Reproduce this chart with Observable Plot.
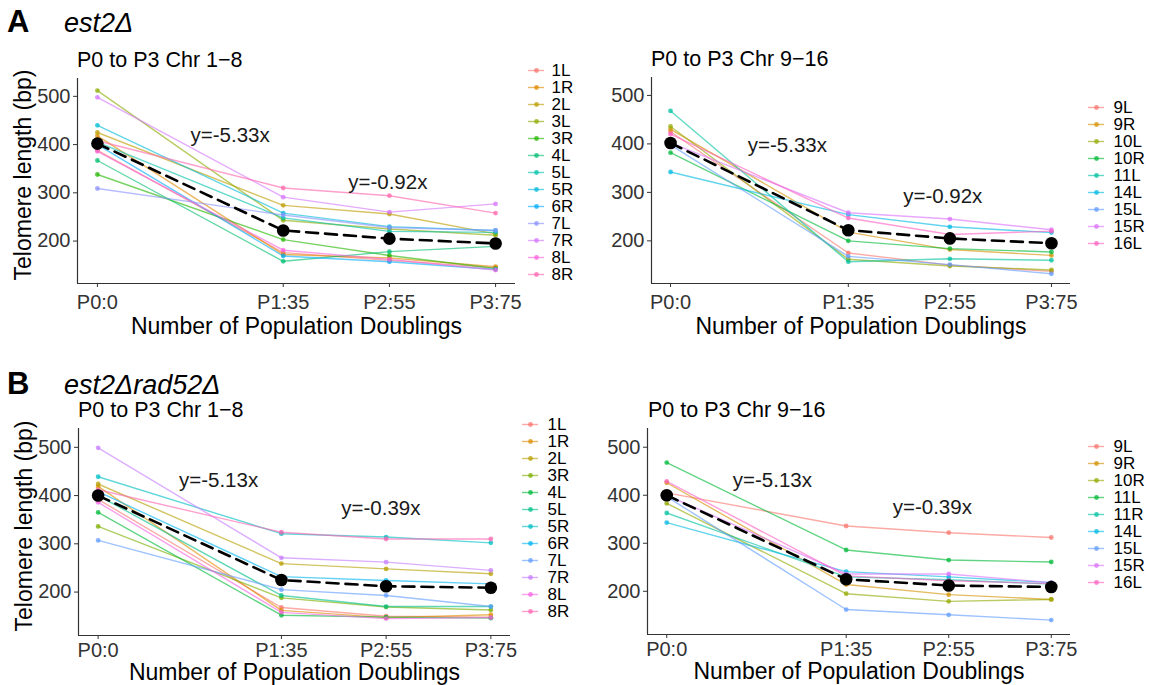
<!DOCTYPE html>
<html>
<head>
<meta charset="utf-8">
<script src="https://cdn.jsdelivr.net/npm/d3@7"></script>
<script src="https://cdn.jsdelivr.net/npm/@observablehq/plot@0.6"></script>
<style>
  html, body { margin: 0; padding: 0; background: #ffffff; }
  #fig { position: relative; width: 1149px; height: 685px; overflow: hidden; font-family: 'Liberation Sans', Arial, Helvetica, sans-serif; }
  #fig > .abs { position: absolute; }
</style>
</head>
<body>
<div id="fig"></div>
<script>
// ---------- data ----------
const pdValues = [0, 35, 55, 75];
const pdLabels = ["P0:0", "P1:35", "P2:55", "P3:75"];
const yTicks = [200, 300, 400, 500];

// Panel A (est2Δ), Chr 1-8
const seriesA1 = ["1L","1R","2L","3L","3R","4L","5L","5R","6R","7L","7R","8L","8R"];
const valuesA1 = [
  [388, 176, 160, 145],
  [418, 172, 165, 147],
  [425, 274, 256, 215],
  [512, 243, 225, 212],
  [338, 203, 170, 143],
  [367, 158, 178, 189],
  [405, 248, 220, 218],
  [440, 258, 230, 222],
  [400, 169, 157, 141],
  [309, 254, 228, 222],
  [498, 291, 260, 277],
  [386, 181, 162, 140],
  [408, 310, 294, 258]
];
// Panel A (est2Δ), Chr 9-16
const seriesA2 = ["9L","9R","10L","10R","11L","14L","15L","15R","16L"];
const valuesA2 = [
  [425, 175, 150, 137],
  [430, 218, 182, 170],
  [436, 162, 148, 140],
  [382, 200, 184, 177],
  [468, 157, 163, 160],
  [342, 254, 229, 217],
  [398, 168, 151, 132],
  [402, 258, 245, 223],
  [420, 247, 213, 220]
];
const meanA = [402, 222, 205, 195];

// Panel B (est2Δrad52Δ), Chr 1-8
const seriesB1 = ["1L","1R","2L","3R","4L","5L","5R","6R","7L","7R","8L","8R"];
const valuesB1 = [
  [392, 168, 150, 148],
  [419, 162, 147, 153],
  [424, 259, 248, 238],
  [336, 188, 169, 163],
  [365, 152, 148, 146],
  [400, 193, 170, 170],
  [439, 321, 314, 302],
  [408, 232, 224, 217],
  [307, 205, 193, 170],
  [499, 271, 262, 245],
  [386, 158, 145, 147],
  [412, 324, 310, 310]
];
// Panel B (est2Δrad52Δ), Chr 9-16
const seriesB2 = ["9L","9R","10R","11L","11R","14L","15L","15R","16L"];
const valuesB2 = [
  [405, 336, 322, 312],
  [426, 214, 193, 183],
  [383, 195, 179, 183],
  [468, 286, 265, 261],
  [363, 230, 224, 215],
  [343, 241, 230, 218],
  [397, 162, 151, 140],
  [400, 236, 236, 218],
  [429, 232, 222, 216]
];
const meanB = [400, 225, 212, 209];

// slope annotations (text, pd, bp)
const annotA1 = [["y=-5.33x", 25, 419], ["y=-0.92x", 54.7, 322]];
const annotA2 = [["y=-5.33x", 23, 396], ["y=-0.92x", 53.6, 292]];
const annotB1 = [["y=-5.13x", 23, 431], ["y=-0.39x", 54, 373]];
const annotB2 = [["y=-5.13x", 20.6, 431], ["y=-0.39x", 51.8, 375]];

// ggplot hue palettes
const hue13 = ["#F8766D","#E18A00","#BE9C00","#8CAB00","#24B700","#00BE70","#00C1AB","#00BBDA","#00ACFC","#8B93FF","#D575FE","#F962DD","#FF65AC"];
const hue12 = ["#F8766D","#DE8C00","#B79F00","#7CAE00","#00BA38","#00C08B","#00BFC4","#00B4F0","#619CFF","#C77CFF","#F564E3","#FF64B0"];
const hue9  = ["#F8766D","#D39200","#93AA00","#00BA38","#00C19F","#00B9E3","#619CFF","#DB72FB","#FF61C3"];

// ---------- drawing ----------
const FONT = "'Liberation Sans', Arial, Helvetica, sans-serif";
const fig = document.getElementById("fig");
const xDomain = [-3.75, 78.75];

function place(node, left, top) {
  node.classList.add("abs");
  node.style.left = left + "px";
  node.style.top = top + "px";
  fig.appendChild(node);
}

function panel({names, values, palette, mean, annots, yDomain, left, top, marginLeft, width, frameH, yTitle, tickPad, titleDy}) {
  const rows = [];
  names.forEach((n, i) => values[i].forEach((v, j) => rows.push({name: n, pd: pdValues[j], v})));
  const meanRows = mean.map((v, j) => ({pd: pdValues[j], v}));
  const ann = annots.map(([text, x, y]) => ({text, x, y}));
  const marginTop = 8, marginBottom = titleDy + 8;
  const marks = [
    Plot.line(rows, {x: "pd", y: "v", z: "name", stroke: "name", strokeWidth: 1.4, strokeOpacity: 0.62}),
    Plot.dot(rows, {x: "pd", y: "v", fill: "name", r: 2.4, fillOpacity: 0.75}),
    Plot.line(meanRows, {x: "pd", y: "v", stroke: "#000", strokeWidth: 2.6, strokeDasharray: "12,7"}),
    Plot.dot(meanRows, {x: "pd", y: "v", fill: "#000", r: 6.3}),
    Plot.text(ann, {x: "x", y: "y", text: "text", fontSize: 20.5, fill: "#1a1a1a"}),
    Plot.ruleX([xDomain[0]], {stroke: "#333", strokeWidth: 1.2}),
    Plot.ruleY([yDomain[0]], {stroke: "#333", strokeWidth: 1.2}),
    Plot.axisX({ticks: pdValues, tickFormat: d => pdLabels[pdValues.indexOf(d)], tickSize: 4, tickPadding: tickPad, fontSize: 20, color: "#333", label: null}),
    Plot.axisY({ticks: yTicks, tickSize: 4, tickPadding: 3, fontSize: 20, color: "#333", label: null}),
    Plot.text(["Number of Population Doublings"], {text: d => d, frameAnchor: "bottom", textAnchor: "middle", lineAnchor: "bottom", dy: titleDy, fontSize: 23, fill: "#000"})
  ];
  if (yTitle) marks.push(Plot.text([yTitle], {text: d => d, frameAnchor: "left", textAnchor: "middle", lineAnchor: "middle", rotate: -90, dx: -54, dy: -6, fontSize: 23, fill: "#000"}));
  const p = Plot.plot({
    width, height: marginTop + frameH + marginBottom,
    marginLeft, marginRight: 5, marginTop, marginBottom,
    x: {domain: xDomain},
    y: {domain: yDomain},
    color: {domain: names, range: palette},
    style: {fontFamily: FONT, background: "transparent", overflow: "visible"},
    marks
  });
  place(p, left, top);
}

function legend({names, palette, dotX, labelX, firstY, spacing}) {
  const n = names.length;
  const w = 80, left = dotX - 12;
  const p = Plot.plot({
    width: w, height: 20 + (n - 1) * spacing,
    margin: 0,
    x: {domain: [0, w], range: [0, w], axis: null},
    y: {type: "point", domain: names, range: [10, 10 + (n - 1) * spacing], padding: 0, axis: null},
    color: {domain: names, range: palette},
    style: {fontFamily: FONT, background: "transparent", overflow: "visible"},
    marks: [
      Plot.ruleY(names, {y: d => d, x1: 4, x2: 20, stroke: d => d, strokeWidth: 1.4, strokeOpacity: 0.62}),
      Plot.dot(names, {x: 12, y: d => d, fill: d => d, r: 2.4, fillOpacity: 0.75}),
      Plot.text(names, {x: labelX - left, y: d => d, text: d => d, textAnchor: "start", fontSize: 17, fill: "#000"})
    ]
  });
  place(p, left, firstY - 10);
}

// headers as an overlay svg
const hdr = d3.create("svg").attr("width", 1149).attr("height", 685)
  .style("font-family", FONT).style("pointer-events", "none");
function txt(s, x, y, size, weight, style) {
  hdr.append("text").attr("x", x).attr("y", y).attr("font-size", size)
    .attr("font-weight", weight || "normal").attr("font-style", style || "normal")
    .attr("fill", "#000").text(s);
}
txt("A", 7, 32, 31, "bold");
txt("est2Δ", 64, 32, 27, "normal", "italic");
txt("B", 7, 394, 31, "bold");
txt("est2Δrad52Δ", 64, 394, 27, "normal", "italic");
txt("P0 to P3 Chr 1\u22128", 77, 67, 21.5);
txt("P0 to P3 Chr 9\u221216", 651, 66, 21.5);
txt("P0 to P3 Chr 1\u22128", 78, 417, 21.5);
txt("P0 to P3 Chr 9\u221216", 648, 417, 21.5);

panel({names: seriesA1, values: valuesA1, palette: hue13, mean: meanA, annots: annotA1,
  yDomain: [112, 537], left: 0, top: 70, marginLeft: 77, width: 520, frameH: 205, yTitle: "Telomere length (bp)", tickPad: 7, titleDy: 50});
panel({names: seriesA2, values: valuesA2, palette: hue9, mean: meanA, annots: annotA2,
  yDomain: [112, 537], left: 574, top: 69, marginLeft: 77, width: 501, frameH: 206, tickPad: 7, titleDy: 50});
panel({names: seriesB1, values: valuesB1, palette: hue12, mean: meanB, annots: annotB1,
  yDomain: [110, 539], left: 0, top: 420, marginLeft: 78, width: 515, frameH: 207, yTitle: "Telomere length (bp)", tickPad: 3, titleDy: 44});
panel({names: seriesB2, values: valuesB2, palette: hue9, mean: meanB, annots: annotB2,
  yDomain: [110, 539], left: 570, top: 420, marginLeft: 77, width: 505, frameH: 206, tickPad: 3, titleDy: 44});

legend({names: seriesA1, palette: hue13, dotX: 536, labelX: 551, firstY: 69.3, spacing: 17.2});
legend({names: seriesA2, palette: hue9, dotX: 1096, labelX: 1113, firstY: 105.7, spacing: 17.3});
legend({names: seriesB1, palette: hue12, dotX: 530, labelX: 547, firstY: 423, spacing: 17.27});
legend({names: seriesB2, palette: hue9, dotX: 1096, labelX: 1113, firstY: 445, spacing: 17.3});

place(hdr.node(), 0, 0);
</script>
</body>
</html>
